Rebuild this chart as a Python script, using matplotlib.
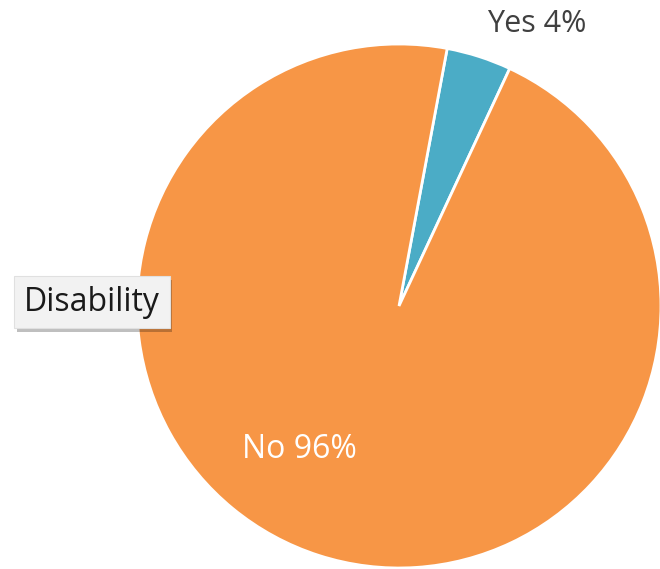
import matplotlib
matplotlib.use("Agg")
from matplotlib import pyplot as plt
import matplotlib.patheffects as pe

labels = ["Yes", "No"]
values = [4, 96]
colors = ["#4BACC6", "#F79646"]
title = "Disability"

plt.rcParams['font.family'] = ['Open Sans', 'DejaVu Sans']

fig = plt.figure(figsize=(6.6, 5.69), dpi=100)
ax = fig.add_axes([0, 0, 1, 1])

# first slice starts a bit right of 12 o'clock, going clockwise
ax.pie(values, colors=colors, startangle=79.4, counterclock=False,
       center=(399, 263), radius=262, frame=True,
       wedgeprops=dict(edgecolor='white', linewidth=2))
ax.set_xlim(0, 660)
ax.set_ylim(0, 569)
ax.set_aspect('equal')
ax.axis('off')

ax.text(537, 545, f"{labels[0]} {values[0]}%", fontsize=22, color='#404040',
        ha='center', va='center')
ax.text(299, 119, f"{labels[1]} {values[1]}%", fontsize=23, color='white',
        ha='center', va='center')

t = ax.text(92, 267, title, fontsize=23, color='#1a1a1a', ha='center', va='center',
            bbox=dict(boxstyle='square,pad=0.3', facecolor='#f2f2f2',
                      edgecolor='#e0e0e0', linewidth=0.8))
t.get_bbox_patch().set_path_effects([
    pe.SimplePatchShadow(offset=(2, -3), shadow_rgbFace='#000000', alpha=0.25),
    pe.Normal()])

fig.savefig("out.png", dpi=100)
